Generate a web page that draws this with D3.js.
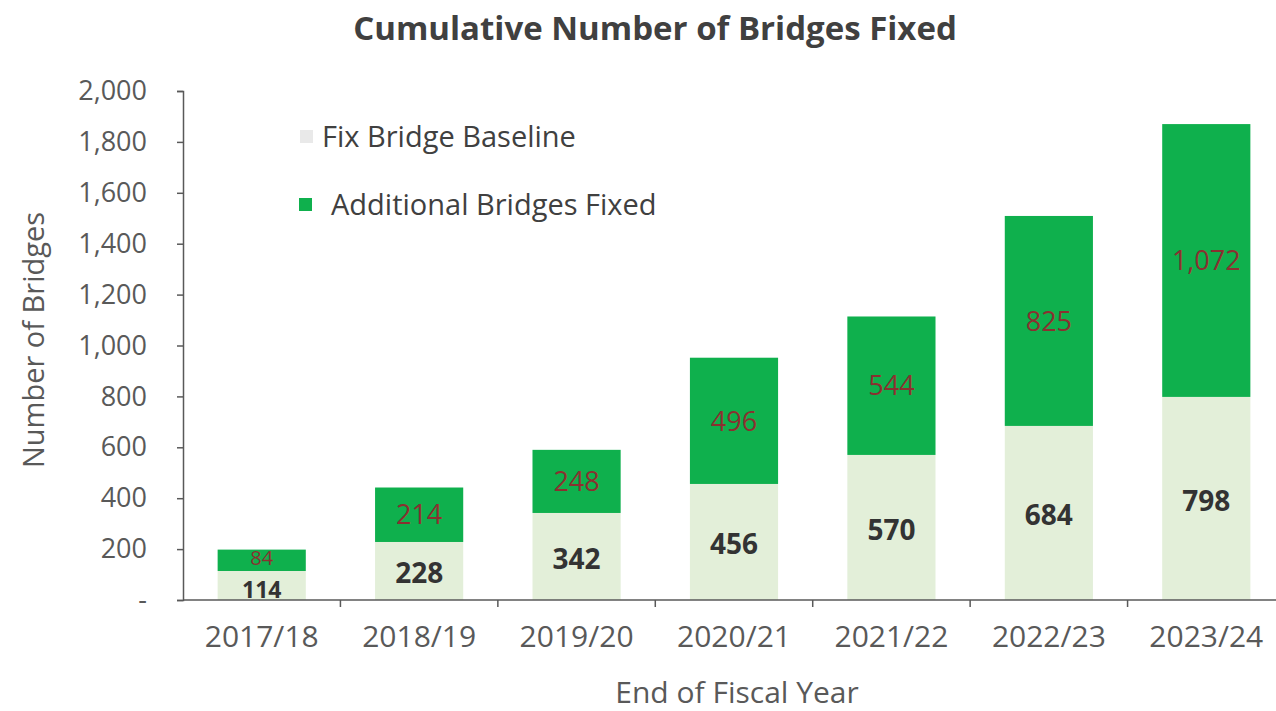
<!DOCTYPE html>
<html><head><meta charset="utf-8">
<script src="https://cdn.jsdelivr.net/npm/d3@7"></script>
<style>body{margin:0;background:#fff}</style>
</head><body>
<svg id="c" width="1276" height="711"></svg>
<script>
const years = ["2017/18","2018/19","2019/20","2020/21","2021/22","2022/23","2023/24"];
const baseline = [114,228,342,456,570,684,798];
const additional = [84,214,248,496,544,825,1072];
const yTicks = [0,200,400,600,800,1000,1200,1400,1600,1800,2000];
const seriesNames = ["Fix Bridge Baseline","Additional Bridges Fixed"];

const svg = d3.select("#c");
const x = d3.scaleBand().domain(years).range([183,1285]).paddingInner(0.44).paddingOuter(0.22);
const y = d3.scaleLinear().domain([0,2000]).range([600,91]);
const fmt = d3.format(",");
const cBase = "#e3efd9", cAdd = "#0fb04d";
const font = "'Open Sans',sans-serif";

const data = years.map((yr,i)=>({yr, b:baseline[i], a:additional[i]}));

// bars
svg.selectAll("rect.b").data(data).join("rect").attr("class","b")
  .attr("x",d=>x(d.yr)).attr("width",x.bandwidth())
  .attr("y",d=>y(d.b)).attr("height",d=>y(0)-y(d.b)).attr("fill",cBase);
svg.selectAll("rect.a").data(data).join("rect").attr("class","a")
  .attr("x",d=>x(d.yr)).attr("width",x.bandwidth())
  .attr("y",d=>y(d.b+d.a)).attr("height",d=>y(d.b)-y(d.b+d.a)).attr("fill",cAdd);

// labels
svg.selectAll("text.lb").data(data).join("text").attr("class","lb")
  .attr("x",d=>x(d.yr)+x.bandwidth()/2).attr("y",d=>y(d.b/2)+(d.b<150?4:2))
  .attr("dy","0.36em").attr("text-anchor","middle")
  .attr("font-family",font).attr("font-weight","bold").attr("font-size",d=>d.b<150?23:28)
  .attr("fill","#333").text(d=>fmt(d.b));
svg.selectAll("text.la").data(data).join("text").attr("class","la")
  .attr("x",d=>x(d.yr)+x.bandwidth()/2).attr("y",d=>y(d.b+d.a/2)-(d.a<150?2:0))
  .attr("dy","0.36em").attr("text-anchor","middle")
  .attr("font-family",font).attr("font-size",d=>d.a<150?20:27)
  .attr("fill","#8a3030").text(d=>fmt(d.a));

// axes
const axColor = "#595959";
const gy = svg.append("g").attr("transform","translate(183,0)")
  .call(d3.axisLeft(y).tickValues(yTicks).tickSize(6).tickPadding(30).tickFormat(v=>v===0?"-":fmt(v)));
gy.select(".domain").attr("stroke",axColor).attr("stroke-width",1.5);
gy.selectAll(".tick line").attr("stroke",axColor).attr("stroke-width",1.5);
gy.selectAll(".tick text").attr("font-family",font).attr("font-size",27).attr("fill",axColor);

const gx = svg.append("g").attr("transform","translate(0,600)")
  .call(d3.axisBottom(x).tickSize(0).tickPadding(26));
gx.select(".domain").remove();
gx.append("line").attr("x1",183).attr("x2",1285).attr("stroke",axColor).attr("stroke-width",1.5);
const half = x.step()*x.paddingInner()/2;
const bounds = years.slice(1).map(yr=>x(yr)-half);
gx.selectAll("line.bt").data(bounds)
  .join("line").attr("class","bt").attr("x1",d=>d).attr("x2",d=>d).attr("y1",0).attr("y2",7)
  .attr("stroke",axColor).attr("stroke-width",1.5);
gx.selectAll(".tick text").attr("font-family",font)
  .attr("font-size",30).attr("fill",axColor);

// titles
svg.append("text").attr("x",655).attr("y",40).attr("text-anchor","middle")
  .attr("font-family",font).attr("font-weight","bold").attr("font-size",33)
  .attr("fill","#404040").text("Cumulative Number of Bridges Fixed");
svg.append("text").attr("transform","translate(44,340) rotate(-90)").attr("text-anchor","middle")
  .attr("font-family",font).attr("font-size",29).attr("fill",axColor)
  .text("Number of Bridges");
svg.append("text").attr("x",737).attr("y",703).attr("text-anchor","middle")
  .attr("font-family",font).attr("font-size",30).attr("fill",axColor)
  .text("End of Fiscal Year");

// legend
const leg = [{n:seriesNames[0],c:"#e9e9e9",x:300,y:137,tx:322},{n:seriesNames[1],c:cAdd,x:299,y:205,tx:331}];
const lg = svg.selectAll("g.leg").data(leg).join("g").attr("class","leg");
lg.append("rect").attr("x",d=>d.x).attr("y",d=>d.y-7).attr("width",13).attr("height",13).attr("fill",d=>d.c);
lg.append("text").attr("x",d=>d.tx).attr("y",d=>d.y).attr("dy","0.36em")
  .attr("font-family",font).attr("font-size",29).attr("fill","#404040").text(d=>d.n);
</script>
</body></html>
